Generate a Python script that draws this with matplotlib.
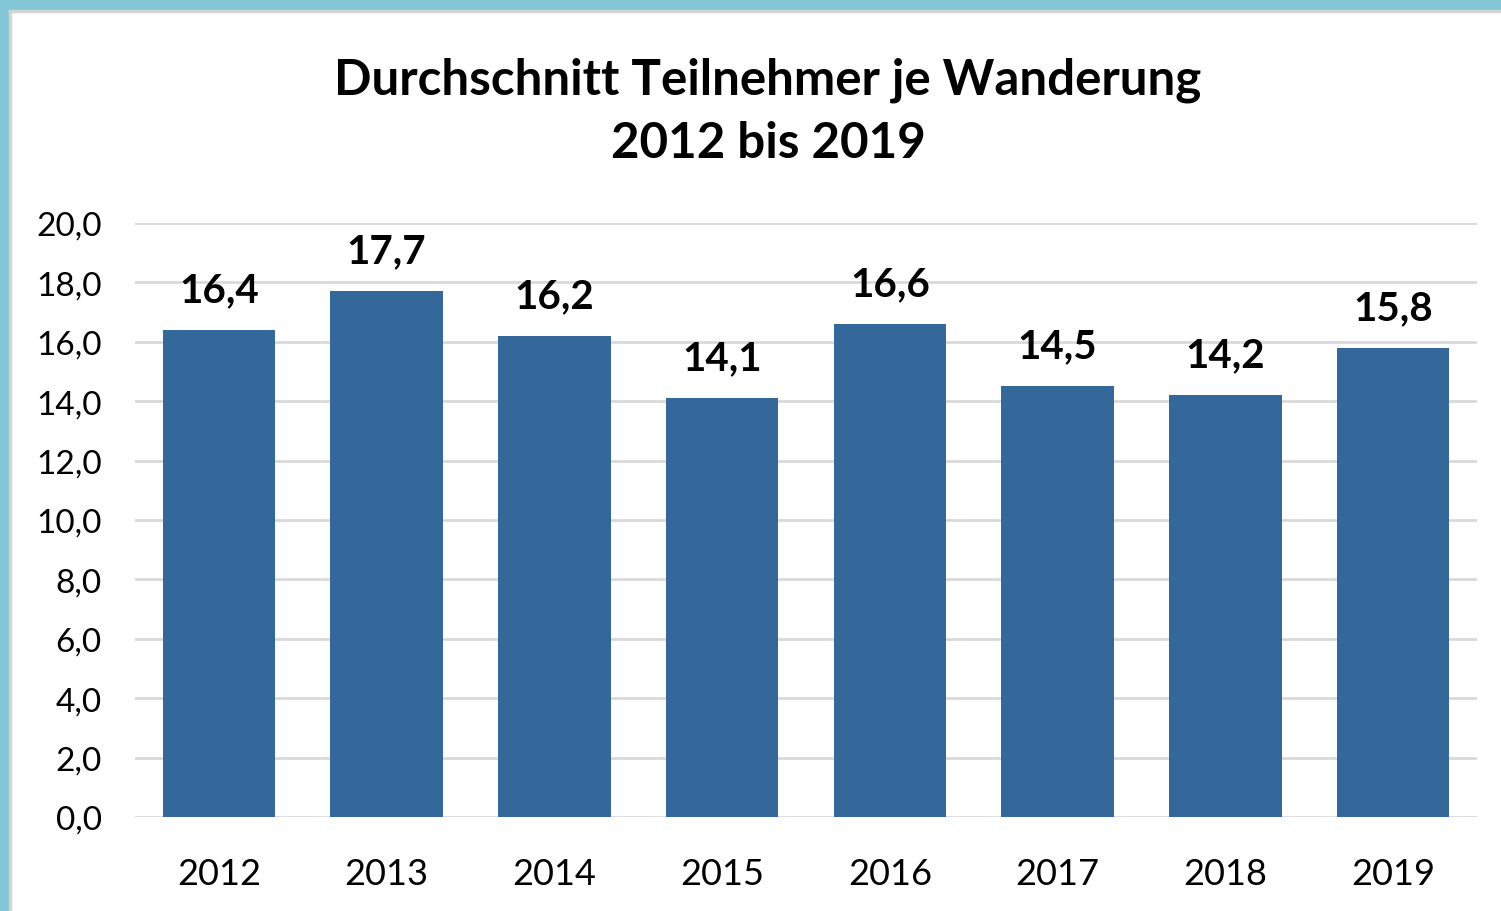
import matplotlib.pyplot as plt
from matplotlib.patches import Rectangle

# data
jahre = ['2012', '2013', '2014', '2015', '2016', '2017', '2018', '2019']
teilnehmer = [16.4, 17.7, 16.2, 14.1, 16.6, 14.5, 14.2, 15.8]

plt.rcParams['font.family'] = ['Lato', 'DejaVu Sans']

fig = plt.figure(figsize=(15.01, 9.12), dpi=100)

# light blue frame at top and left
fig.patches.append(Rectangle((0, 1 - 11/912), 1, 11/912, transform=fig.transFigure,
                             color='#82C6D8', zorder=0))
fig.patches.append(Rectangle((0, 0), 9/1501, 1, transform=fig.transFigure,
                             color='#82C6D8', zorder=0))
fig.patches.append(Rectangle((9/1501, 1 - 13/912), 1, 2/912, transform=fig.transFigure,
                             color='#D3D3D3', zorder=0))
fig.patches.append(Rectangle((9/1501, 0), 2/1501, 1 - 11/912, transform=fig.transFigure,
                             color='#D3D3D3', zorder=0))

ax = fig.add_axes([135/1501, 94/912, 1342/1501, 594/912])
x = range(len(jahre))
bars = ax.bar(x, teilnehmer, width=0.67, color='#34679A', zorder=3)

for xi, v in zip(x, teilnehmer):
    ax.annotate(f'{v:.1f}'.replace('.', ','), (xi, v), xytext=(0, 29),
                textcoords='offset points', ha='center', va='center',
                fontsize=29, fontweight='bold')

ax.set_xlim(-0.5, len(jahre) - 0.5)
ax.set_ylim(0, 20)
ax.set_yticks([i * 2 for i in range(11)])
ax.set_yticklabels([f'{i * 2:.1f}'.replace('.', ',') for i in range(11)])
ax.set_xticks(list(x))
ax.set_xticklabels(jahre)
ax.tick_params(axis='y', length=0, pad=24, labelsize=24)
ax.tick_params(axis='x', length=0, pad=29, labelsize=26)
ax.grid(axis='y', color='#D9D9D9', linewidth=2, zorder=0)
for s in ax.spines.values():
    s.set_visible(False)

fig.text(768/1501, 1 - 80/912, 'Durchschnitt Teilnehmer je Wanderung',
         ha='center', va='center', fontsize=35.5, fontweight='bold')
fig.text(768/1501, 1 - 143/912, '2012 bis 2019',
         ha='center', va='center', fontsize=35.5, fontweight='bold')

fig.savefig('out.png', dpi=100)
